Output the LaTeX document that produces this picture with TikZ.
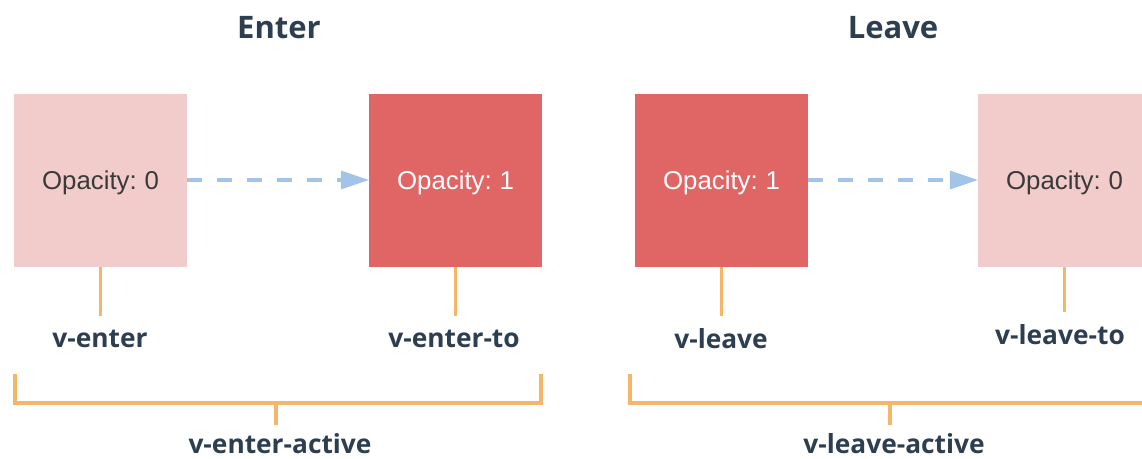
\documentclass[tikz,border=0pt]{standalone}
\usepackage{fontspec}
\usetikzlibrary{arrows.meta}
\newfontfamily\labelfont{Open Sans}
\newfontfamily\boxfont[WordSpace=0.75]{Liberation Sans}
\definecolor{softpink}{HTML}{F2CBCB}
\definecolor{vuered}{HTML}{E06666}
\definecolor{navy}{HTML}{2C3E50}
\definecolor{hookorange}{HTML}{F4B668}
\definecolor{flowblue}{HTML}{A2C4E8}
\definecolor{boxtext}{HTML}{3A3A3A}
\tikzset{
  statebox/.style={minimum width=173pt, minimum height=173pt, inner sep=0pt,
    text depth=-2pt, font=\boxfont\fontsize{25.8}{30}\selectfont},
  startstate/.style={statebox, fill=softpink, text=boxtext},
  endstate/.style={statebox, fill=vuered, text=white},
  flow/.style={draw=flowblue, line width=3.5pt, dash pattern=on 15pt off 15pt,
    -{Triangle[length=28pt, width=19pt, line width=0pt]}},
  hook/.style={draw=hookorange, line width=3.5pt},
  hooklabel/.style={text=navy, inner sep=0pt, font=\labelfont\bfseries\fontsize{26.3}{31}\selectfont},
  title/.style={text=navy, inner sep=0pt, font=\labelfont\bfseries\fontsize{31}{36}\selectfont}
}
\begin{document}
\begin{tikzpicture}[x=1pt, y=-1pt]
  \useasboundingbox (0,0) rectangle (1142,458);
  \clip (0,0) rectangle (1142,458);

  % headings
  \node[title] (enterTitle) at (279,28) {Enter};
  \node[title] (leaveTitle) at (893,28) {Leave};

  % states
  \node[startstate] (eFrom) at (100.5,180) {Opacity: 0};
  \node[endstate]   (eTo)   at (455.5,180) {Opacity: 1};
  \node[endstate]   (lFrom) at (721.5,180) {Opacity: 1};
  \node[startstate] (lTo)   at (1064.5,180) {Opacity: 0};

  % transitions
  \draw[flow] (eFrom.east) -- (eTo.west);
  \draw[flow] (lFrom.east) -- (lTo.west);

  % class hooks under each state
  \coordinate (eFromEnd)  at (100.5,316);
  \coordinate (eToEnd)    at (455.5,316);
  \coordinate (lFromEnd)  at (721.5,316);
  \coordinate (lToEnd)    at (1064.5,312);
  \draw[hook] (eFrom.south) -- (eFromEnd);
  \draw[hook] (eTo.south)   -- (eToEnd);
  \draw[hook] (lFrom.south) -- (lFromEnd);
  \draw[hook] (lTo.south)   -- (lToEnd);

  \node[hooklabel] (eFromLabel) at (100,339)  {v-enter};
  \node[hooklabel] (eToLabel)   at (454,339)  {v-enter-to};
  \node[hooklabel] (lFromLabel) at (721,339)  {v-leave};
  \node[hooklabel] (lToLabel)   at (1060,335) {v-leave-to};

  % brackets for the active classes
  \coordinate (ebA) at (15,374);
  \coordinate (ebB) at (15,403);
  \coordinate (ebC) at (541,403);
  \coordinate (ebD) at (541,374);
  \coordinate (ebMid) at (276,403);
  \coordinate (ebTick) at (276,425);
  \draw[hook] (ebA) -- (ebB) -- (ebC) -- (ebD);
  \draw[hook] (ebMid) -- (ebTick);

  \coordinate (lbA) at (630,374);
  \coordinate (lbB) at (630,403);
  \coordinate (lbC) at (1160,403);
  \coordinate (lbMid) at (890,403);
  \coordinate (lbTick) at (890,425);
  \draw[hook] (lbA) -- (lbB) -- (lbC);
  \draw[hook] (lbMid) -- (lbTick);

  \node[hooklabel] (eActive) at (280,444) {v-enter-active};
  \node[hooklabel] (lActive) at (894,444) {v-leave-active};
\end{tikzpicture}
\end{document}
